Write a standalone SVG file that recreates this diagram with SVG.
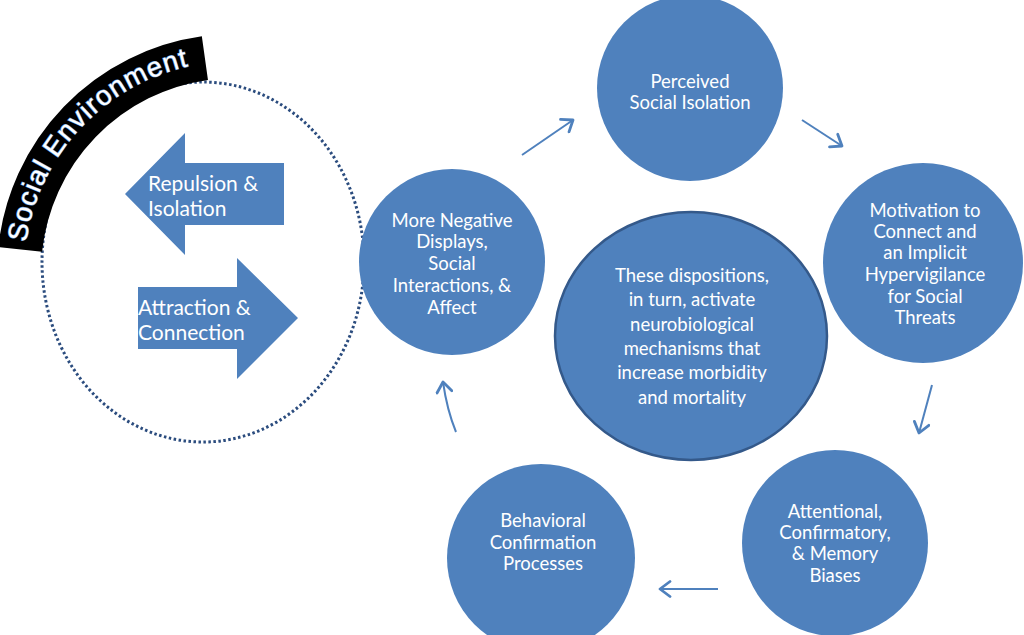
<svg xmlns="http://www.w3.org/2000/svg" width="1024" height="635" viewBox="0 0 1024 635">
<style>
.node{fill:#4f81bd}
.lbl{font-family:Lato,"Liberation Sans",sans-serif;font-size:18.5px;fill:#fff;text-anchor:middle}
.arw{font-family:Lato,"Liberation Sans",sans-serif;font-size:21px;fill:#fff}
.conn{fill:none;stroke:#4f81bd;stroke-width:2;marker-end:url(#chev)}
</style>
<defs>
<marker id="chev" markerUnits="userSpaceOnUse" viewBox="0 0 14 18" refX="12" refY="9" markerWidth="14" markerHeight="18" orient="auto">
<path d="M2,1.5 L12,9 L2,16.5" fill="none" stroke="#4f81bd" stroke-width="2.8" stroke-linecap="round" stroke-linejoin="round"/>
</marker>
<path id="sePath" d="M26.1,242.6 A211,211 0 0 1 198.4,64.2"/>
</defs>
<rect width="1024" height="635" fill="#fff"/>

<g id="social-environment">
<ellipse cx="203" cy="262" rx="161" ry="180" fill="none" stroke="#2b4c7e" stroke-width="3" stroke-dasharray="2.5 2.5"/>
<path d="M20.2,249.4 A216,216 0 0 1 204.9,58.1" fill="none" stroke="#000" stroke-width="44"/>
<text font-family="'Liberation Sans',Arial,sans-serif" font-size="27.5" fill="#fff" stroke="#6a9bd8" stroke-width="1.2" paint-order="stroke"><textPath href="#sePath" textLength="255" lengthAdjust="spacing">Social Environment</textPath></text>
</g>

<g id="repulsion">
<polygon class="node" points="125,194 185,133 185,163 284,163 284,225 185,225 185,255"/>
<text class="arw"><tspan x="148" y="191">Repulsion &amp;</tspan><tspan x="148" y="216">Isolation</tspan></text>
</g>

<g id="attraction">
<polygon class="node" points="138,287 237,287 237,258 298,318 237,379 237,349 138,349"/>
<text class="arw"><tspan x="138" y="315">Attraction &amp;</tspan><tspan x="138" y="340">Connection</tspan></text>
</g>

<g id="perceived">
<circle class="node" cx="690" cy="88" r="93"/>
<text class="lbl"><tspan x="690" y="88">Perceived</tspan><tspan x="690" y="109">Social Isolation</tspan></text>
</g>

<g id="motivation">
<circle class="node" cx="923" cy="263" r="100"/>
<text class="lbl"><tspan x="925" y="217">Motivation to</tspan><tspan x="925" y="238">Connect and</tspan><tspan x="925" y="259">an Implicit</tspan><tspan x="925" y="281">Hypervigilance</tspan><tspan x="925" y="303">for Social</tspan><tspan x="925" y="324">Threats</tspan></text>
</g>

<g id="attentional">
<circle class="node" cx="835" cy="543" r="93"/>
<text class="lbl"><tspan x="835" y="518">Attentional,</tspan><tspan x="835" y="539">Confirmatory,</tspan><tspan x="835" y="560">&amp; Memory</tspan><tspan x="835" y="582">Biases</tspan></text>
</g>

<g id="behavioral">
<circle class="node" cx="541" cy="558" r="94"/>
<text class="lbl"><tspan x="543" y="527">Behavioral</tspan><tspan x="543" y="549">Confirmation</tspan><tspan x="543" y="570">Processes</tspan></text>
</g>

<g id="negative">
<circle class="node" cx="452" cy="262" r="93"/>
<text class="lbl"><tspan x="452" y="227">More Negative</tspan><tspan x="452" y="248">Displays,</tspan><tspan x="452" y="270">Social</tspan><tspan x="452" y="292">Interactions, &amp;</tspan><tspan x="452" y="314">Affect</tspan></text>
</g>

<g id="center">
<ellipse cx="691" cy="336" rx="136" ry="124" fill="#4f81bd" stroke="#34598a" stroke-width="2.5"/>
<text class="lbl"><tspan x="692" y="282">These dispositions,</tspan><tspan x="692" y="306">in turn, activate</tspan><tspan x="692" y="331">neurobiological</tspan><tspan x="692" y="355">mechanisms that</tspan><tspan x="692" y="379">increase morbidity</tspan><tspan x="692" y="404">and mortality</tspan></text>
</g>

<g id="connectors">
<path class="conn" d="M522,155 L573,120"/>
<path class="conn" d="M802,120 L842,146"/>
<path class="conn" d="M932,385 L919,433"/>
<path class="conn" d="M718,589 L660,589"/>
<path class="conn" d="M456,432 Q447,410 443,382"/>
</g>
</svg>
